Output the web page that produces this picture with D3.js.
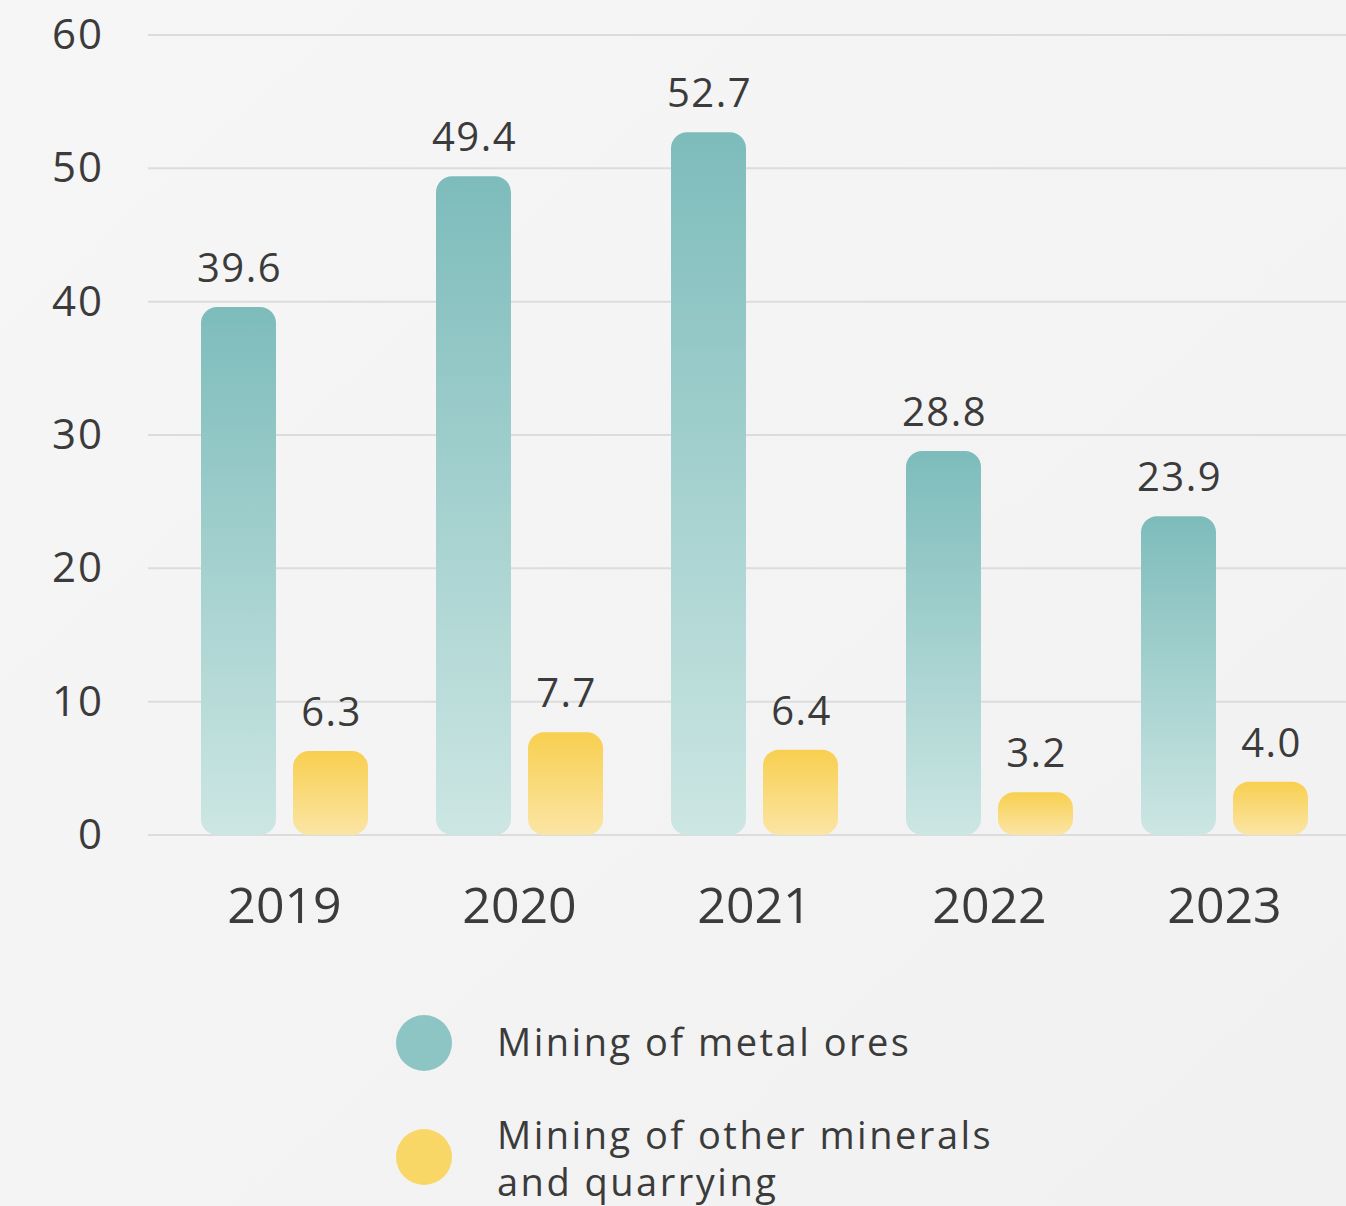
<!DOCTYPE html>
<html>
<head>
<meta charset="utf-8">
<script src="https://cdn.jsdelivr.net/npm/d3@7"></script>
<style>
  html, body { margin: 0; padding: 0; background: #f4f4f4; }
  svg { display: block; }
  text { font-family: "Open Sans", "DejaVu Sans", sans-serif; fill: #3b3b3b; }
</style>
</head>
<body>
<svg id="chart" width="1346" height="1206"></svg>
<script>
const years = ["2019", "2020", "2021", "2022", "2023"];
const seriesNames = ["Mining of metal ores", "Mining of other minerals and quarrying"];
const metalOres = [39.6, 49.4, 52.7, 28.8, 23.9];
const otherMinerals = [6.3, 7.7, 6.4, 3.2, 4.0];
const yTicks = [0, 10, 20, 30, 40, 50, 60];

const svg = d3.select("#chart");
const W = 1346, H = 1206;

const defs = svg.append("defs");
const bg = defs.append("linearGradient").attr("id", "bg").attr("x1", 0).attr("y1", 0).attr("x2", 1).attr("y2", 1);
bg.append("stop").attr("offset", "0%").attr("stop-color", "#f6f6f6");
bg.append("stop").attr("offset", "100%").attr("stop-color", "#f1f1f1");
svg.append("rect").attr("width", W).attr("height", H).attr("fill", "url(#bg)");

const gTeal = defs.append("linearGradient").attr("id", "gTeal").attr("x1", 0).attr("y1", 0).attr("x2", 0).attr("y2", 1);
gTeal.append("stop").attr("offset", "0%").attr("stop-color", "#7dbcbb");
gTeal.append("stop").attr("offset", "100%").attr("stop-color", "#cce6e3");
const gYellow = defs.append("linearGradient").attr("id", "gYellow").attr("x1", 0).attr("y1", 0).attr("x2", 0).attr("y2", 1);
gYellow.append("stop").attr("offset", "0%").attr("stop-color", "#f8cf4f");
gYellow.append("stop").attr("offset", "100%").attr("stop-color", "#fbe5a5");

const fills = ["url(#gTeal)", "url(#gYellow)"];
const legendColors = ["#8cc5c4", "#f9d766"];

const y = d3.scaleLinear().domain([0, 60]).range([835, 35]);
const x0 = d3.scaleBand().domain(years).range([167, 1342]).padding(0);
const x1 = d3.scaleBand().domain([0, 1]).range([34, 201]).paddingInner(0.185);

// gridlines
svg.append("g").selectAll("line").data(yTicks).join("line")
  .attr("x1", 148).attr("x2", W)
  .attr("y1", d => y(d)).attr("y2", d => y(d))
  .attr("stroke", "#dcdcdc").attr("stroke-width", 2);

// y axis labels
const yAxis = d3.axisLeft(y).tickValues(yTicks).tickSize(0).tickPadding(0);
const ya = svg.append("g").attr("transform", "translate(104,0)").call(yAxis);
ya.select(".domain").remove();
ya.selectAll("text").style("font-size", "42px").style("letter-spacing", "2px").attr("fill", "#3b3b3b")
  .style("font-family", "'Open Sans', sans-serif");

// x axis labels
const xAxis = d3.axisBottom(x0).tickSize(0).tickPadding(0);
const xa = svg.append("g").attr("transform", "translate(0,887)").call(xAxis);
xa.select(".domain").remove();
xa.selectAll("text").style("font-size", "50px").attr("fill", "#3b3b3b")
  .style("font-family", "'Open Sans', sans-serif").attr("dy", "0.72em");

// bars
const data = years.map((yr, i) => ({ year: yr, values: [metalOres[i], otherMinerals[i]] }));
const groups = svg.append("g").selectAll("g").data(data).join("g")
  .attr("transform", d => `translate(${x0(d.year)},0)`);

groups.selectAll("rect").data(d => d.values.map((v, k) => ({ v, k }))).join("rect")
  .attr("x", d => x1(d.k))
  .attr("width", x1.bandwidth())
  .attr("y", d => y(d.v))
  .attr("height", d => y(0) - y(d.v))
  .attr("rx", d => Math.min(16, (y(0) - y(d.v)) / 2))
  .attr("fill", d => fills[d.k]);

groups.selectAll("text.val").data(d => d.values.map((v, k) => ({ v, k }))).join("text")
  .attr("class", "val")
  .attr("x", d => x1(d.k) + x1.bandwidth() / 2 + 1)
  .attr("y", d => y(d.v) - 25)
  .attr("text-anchor", "middle")
  .style("font-size", "40px")
  .style("letter-spacing", "1.5px")
  .text(d => d.v.toFixed(1));

// legend
const legend = svg.append("g");
legend.append("circle").attr("cx", 424).attr("cy", 1043).attr("r", 28).attr("fill", legendColors[0]);
legend.append("circle").attr("cx", 424).attr("cy", 1157).attr("r", 28).attr("fill", legendColors[1]);
legend.append("text").attr("x", 497).attr("y", 1056)
  .style("font-size", "38px").style("letter-spacing", "2.5px").text(seriesNames[0]);
const t2 = legend.append("text").attr("x", 497).attr("y", 1149)
  .style("font-size", "38px").style("letter-spacing", "2.5px");
t2.append("tspan").attr("x", 497).text("Mining of other minerals");
t2.append("tspan").attr("x", 497).attr("dy", 47).text("and quarrying");
</script>
</body>
</html>
